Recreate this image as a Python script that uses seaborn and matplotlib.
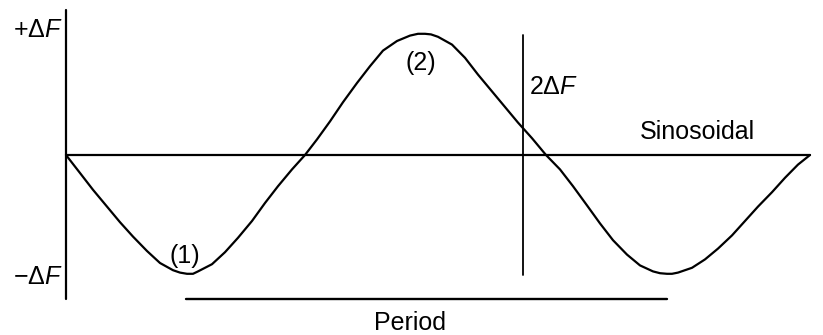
import matplotlib

matplotlib.use("Agg")
import matplotlib.pyplot as plt
import pandas as pd
import seaborn as sns


# curve points: x in pixels, y in units of delta F
CURVE_X = [
    66, 80, 93, 107, 120, 133, 147, 160, 173, 180, 187,
    193, 198, 212, 225, 238, 252, 265, 278, 292, 305,
    317, 330, 343, 357, 370, 383, 397, 410, 418, 425,
    431, 438, 452, 465, 478, 492, 505, 518, 532, 546,
    560, 573, 587, 600, 613, 627, 640, 653, 660, 667,
    672, 678, 692, 705, 718, 732, 745, 758, 772, 785, 798, 810,
]
CURVE_Y = [
    0.00, -0.15, -0.29, -0.43, -0.56, -0.68, -0.80, -0.90, -0.96, -0.98, -0.99,
    -0.99, -0.97, -0.91, -0.81, -0.69, -0.55, -0.40, -0.26, -0.12, 0.00,
    0.13, 0.28, 0.44, 0.60, 0.74, 0.87, 0.95, 0.995, 1.01, 1.01,
    1.005, 0.985, 0.92, 0.81, 0.67, 0.53, 0.40, 0.27, 0.14, 0.00,
    -0.12, -0.26, -0.42, -0.57, -0.71, -0.83, -0.92, -0.97, -0.985, -0.99,
    -0.99, -0.98, -0.94, -0.87, -0.78, -0.67, -0.55, -0.43, -0.31, -0.19, -0.08, 0.00,
]

AMPLITUDE = 1.0
LABEL_POS = "+Δ$\\mathit{F}$"
LABEL_NEG = "−Δ$\\mathit{F}$"
LABEL_SPAN = "2Δ$\\mathit{F}$"
LABEL_WAVE = "Sinosoidal"
LABEL_PERIOD = "Period"
LABEL_MIN = "(1)"
LABEL_MAX = "(2)"

sns.set_theme(style="white")
plt.rcParams["font.family"] = ["Liberation Sans", "DejaVu Sans"]
plt.rcParams["mathtext.fontset"] = "custom"
plt.rcParams["mathtext.rm"] = "Liberation Sans"
plt.rcParams["mathtext.it"] = "Liberation Sans:italic"
plt.rcParams["text.color"] = "black"

curve_df = pd.DataFrame({"x": CURVE_X, "y": CURVE_Y})

fig = plt.figure(figsize=(8.23, 3.35), dpi=100)
ax = fig.add_axes([0, 0, 1, 1])

sns.lineplot(data=curve_df, x="x", y="y", color="black", linewidth=1.6,
             estimator=None, sort=False, ax=ax, solid_joinstyle="round")

# axis, baseline, 2dF marker and period bar
ax.plot([66, 66], [1.21, -1.2], color="black", linewidth=1.6)
ax.plot([66, 810], [0, 0], color="black", linewidth=1.6)
ax.plot([523, 523], [AMPLITUDE, -AMPLITUDE], color="black", linewidth=1.3)
ax.plot([186, 667], [-1.2, -1.2], color="black", linewidth=1.7)

fs = 18
ax.text(63, 1.04, LABEL_POS, fontsize=fs, ha="right", va="center")
ax.text(63, -1.02, LABEL_NEG, fontsize=fs, ha="right", va="center")
ax.text(185, -0.84, LABEL_MIN, fontsize=fs, ha="center", va="center")
ax.text(421, 0.77, LABEL_MAX, fontsize=fs, ha="center", va="center")
ax.text(529, 0.57, LABEL_SPAN, fontsize=fs, ha="left", va="center")
ax.text(697, 0.19, LABEL_WAVE, fontsize=fs, ha="center", va="center")
ax.text(410, -1.40, LABEL_PERIOD, fontsize=fs, ha="center", va="center")

ax.set_xlim(0, 823)
ax.set_ylim(-1.5, 155 / 120)
ax.set_axis_off()

fig.savefig("out.png", dpi=100)
plt.close(fig)
